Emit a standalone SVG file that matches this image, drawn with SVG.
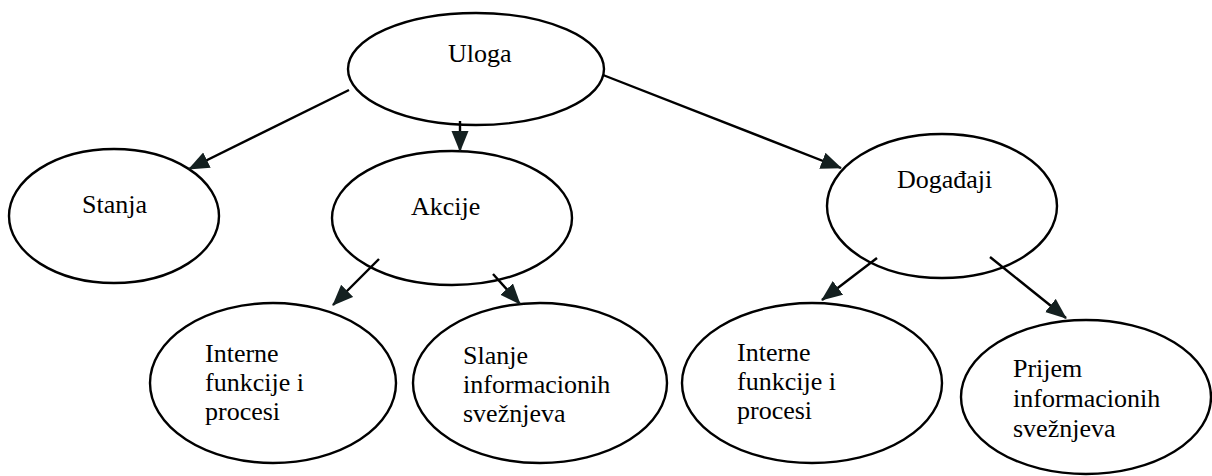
<svg xmlns="http://www.w3.org/2000/svg" width="1212" height="476" viewBox="0 0 1212 476">
  <style>
    .node ellipse { fill: #ffffff; stroke: #000000; stroke-width: 2.4; }
    .node text { font-family: "Liberation Serif", "Times New Roman", serif; font-size: 26px; fill: #000000; }
    .edge { stroke: #000000; stroke-width: 2.4; fill: none; marker-end: url(#arrow); }
  </style>
  <defs>
    <marker id="arrow" markerUnits="userSpaceOnUse" markerWidth="22" markerHeight="18" refX="20" refY="8.5" orient="auto">
      <path d="M0,0 L21,8.5 L0,17 Z" fill="#142020"/>
    </marker>
  </defs>
  <rect width="1212" height="476" fill="#ffffff"/>

  <g id="node-uloga" class="node">
    <ellipse cx="476" cy="69" rx="128" ry="56"/>
    <text x="448" y="62">Uloga</text>
  </g>

  <g id="node-stanja" class="node">
    <ellipse cx="114" cy="216" rx="105" ry="67"/>
    <text x="82" y="213">Stanja</text>
  </g>

  <g id="node-akcije" class="node">
    <ellipse cx="452" cy="218" rx="120" ry="67"/>
    <text x="411" y="215">Akcije</text>
  </g>

  <g id="node-dogadjaji" class="node">
    <ellipse cx="942" cy="206" rx="115" ry="72"/>
    <text x="897" y="188">Događaji</text>
  </g>

  <g id="node-interne-akcije" class="node">
    <ellipse cx="273" cy="383" rx="123" ry="80"/>
    <text x="205" y="362">Interne</text>
    <text x="205" y="391">funkcije i</text>
    <text x="205" y="420">procesi</text>
  </g>

  <g id="node-slanje" class="node">
    <ellipse cx="540" cy="383" rx="127" ry="80"/>
    <text x="463" y="364">Slanje</text>
    <text x="463" y="393">informacionih</text>
    <text x="463" y="422">svežnjeva</text>
  </g>

  <g id="node-interne-dogadjaji" class="node">
    <ellipse cx="812" cy="383" rx="130" ry="80"/>
    <text x="737" y="361">Interne</text>
    <text x="737" y="390">funkcije i</text>
    <text x="737" y="419">procesi</text>
  </g>

  <g id="node-prijem" class="node">
    <ellipse cx="1086" cy="397" rx="125" ry="77"/>
    <text x="1013" y="377">Prijem</text>
    <text x="1013" y="407">informacionih</text>
    <text x="1013" y="437">svežnjeva</text>
  </g>

  <g id="connectors">
    <line class="edge" x1="349" y1="90" x2="189" y2="169"/>
    <line class="edge" x1="460" y1="121" x2="460" y2="151"/>
    <line class="edge" x1="603" y1="75" x2="841" y2="168"/>
    <line class="edge" x1="379" y1="259" x2="333" y2="305"/>
    <line class="edge" x1="493" y1="274" x2="520" y2="304"/>
    <line class="edge" x1="877" y1="258" x2="822" y2="300"/>
    <line class="edge" x1="990" y1="257" x2="1066" y2="318"/>
  </g>
</svg>
